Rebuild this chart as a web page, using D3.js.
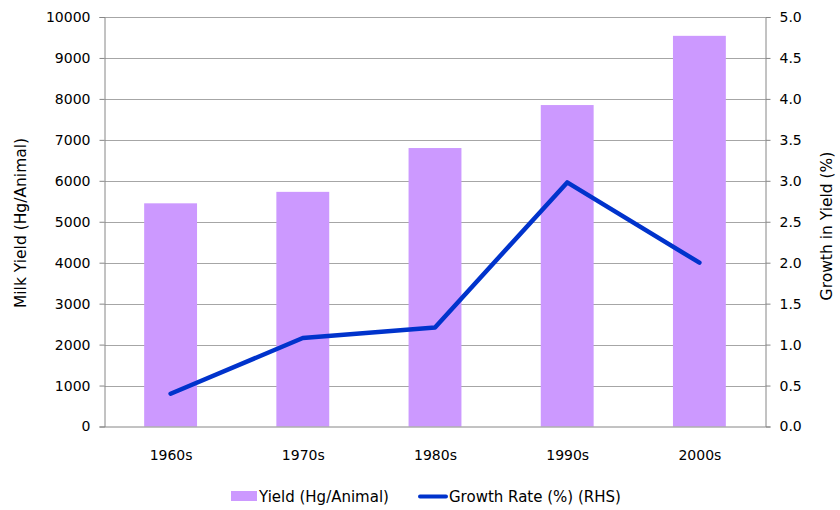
<!DOCTYPE html>
<html>
<head>
<meta charset="utf-8">
<script src="https://cdn.jsdelivr.net/npm/d3@7"></script>
<style>
  body { margin: 0; background: #fff; }
  text { font-family: "DejaVu Sans", sans-serif; fill: #000; }
</style>
</head>
<body>
<svg width="840" height="510"></svg>
<script>
// data
var decades = ["1960s", "1970s", "1980s", "1990s", "2000s"];
var yieldHg = [5450, 5730, 6800, 7850, 9540];
var growthPct = [0.40, 1.08, 1.21, 2.98, 2.00];
var leftTicks = [0, 1000, 2000, 3000, 4000, 5000, 6000, 7000, 8000, 9000, 10000];
var rightTicks = [0, 0.5, 1, 1.5, 2, 2.5, 3, 3.5, 4, 4.5, 5];

var svg = d3.select("svg");
// plot box (note: "top" is taken by window.top, so use other names)
var plotLeft = 104.5, plotRight = 765.5, plotTop = 17, plotBottom = 426.5;
var fontFamily = "DejaVu Sans, sans-serif";
var fontSize = "14px";
var titleSize = "15.5px";

var x = d3.scaleBand()
    .domain(decades)
    .range([plotLeft, plotRight])
    .paddingInner(0.6)
    .paddingOuter(0.3);

// band centres for the line
var xc = d3.scalePoint()
    .domain(decades)
    .range([plotLeft, plotRight])
    .padding(0.5);

var yL = d3.scaleLinear().domain([0, 10000]).range([plotBottom, plotTop]);
var yR = d3.scaleLinear().domain([0, 5]).range([plotBottom, plotTop]);

// gridlines
svg.append("g")
    .selectAll("line")
    .data(leftTicks.slice(1))
    .enter()
    .append("line")
    .attr("x1", plotLeft)
    .attr("x2", plotRight)
    .attr("y1", function (d) { return Math.round(yL(d)) + 0.5; })
    .attr("y2", function (d) { return Math.round(yL(d)) + 0.5; })
    .attr("stroke", "#a6a6a6")
    .attr("stroke-width", 1);

// bars
svg.append("g")
    .selectAll("rect")
    .data(yieldHg)
    .enter()
    .append("rect")
    .attr("x", function (d, i) { return x(decades[i]); })
    .attr("width", x.bandwidth())
    .attr("y", function (d) { return yL(d); })
    .attr("height", function (d) { return plotBottom - yL(d); })
    .attr("fill", "#cc99ff");

// left axis
var axL = svg.append("g")
    .attr("transform", "translate(" + plotLeft + ",0)")
    .call(d3.axisLeft(yL).tickValues(leftTicks).tickSize(5).tickPadding(9).tickFormat(d3.format("d")));

// right axis
var axR = svg.append("g")
    .attr("transform", "translate(" + plotRight + ",0)")
    .call(d3.axisRight(yR).tickValues(rightTicks).tickSize(5).tickPadding(9).tickFormat(d3.format(".1f")));

// bottom axis
var axB = svg.append("g")
    .attr("transform", "translate(0," + plotBottom + ")")
    .call(d3.axisBottom(xc).tickSize(0).tickPadding(24));

[axL, axR, axB].forEach(function (ax) {
    ax.select(".domain").attr("stroke", "#868686");
    ax.selectAll(".tick line").attr("stroke", "#868686");
    ax.selectAll("text").style("font-family", fontFamily).style("font-size", fontSize).attr("fill", "#000");
});
axB.select(".domain").attr("d", "M" + plotLeft + ",0.5H" + plotRight);

// line
var line = d3.line()
    .x(function (d, i) { return xc(decades[i]); })
    .y(function (d) { return yR(d); });

svg.append("path")
    .datum(growthPct)
    .attr("d", line)
    .attr("fill", "none")
    .attr("stroke", "#0033cc")
    .attr("stroke-width", 4.5)
    .attr("stroke-linecap", "round")
    .attr("stroke-linejoin", "round");

// axis titles
svg.append("text")
    .attr("transform", "translate(26,223) rotate(-90)")
    .attr("text-anchor", "middle")
    .style("font-size", titleSize)
    .text("Milk Yield (Hg/Animal)");

svg.append("text")
    .attr("transform", "translate(832,226) rotate(-90)")
    .attr("text-anchor", "middle")
    .style("font-size", titleSize)
    .text("Growth in Yield (%)");

// legend
var leg = svg.append("g");
leg.append("rect")
    .attr("x", 231).attr("y", 491)
    .attr("width", 26).attr("height", 10)
    .attr("fill", "#cc99ff");
leg.append("text")
    .attr("x", 259).attr("y", 501.5)
    .style("font-size", "15px")
    .text("Yield (Hg/Animal)");
leg.append("line")
    .attr("x1", 420).attr("x2", 446)
    .attr("y1", 496.5).attr("y2", 496.5)
    .attr("stroke", "#0033cc")
    .attr("stroke-width", 4)
    .attr("stroke-linecap", "round");
leg.append("text")
    .attr("x", 449).attr("y", 501.5)
    .style("font-size", "15px")
    .text("Growth Rate (%) (RHS)");
</script>
</body>
</html>
